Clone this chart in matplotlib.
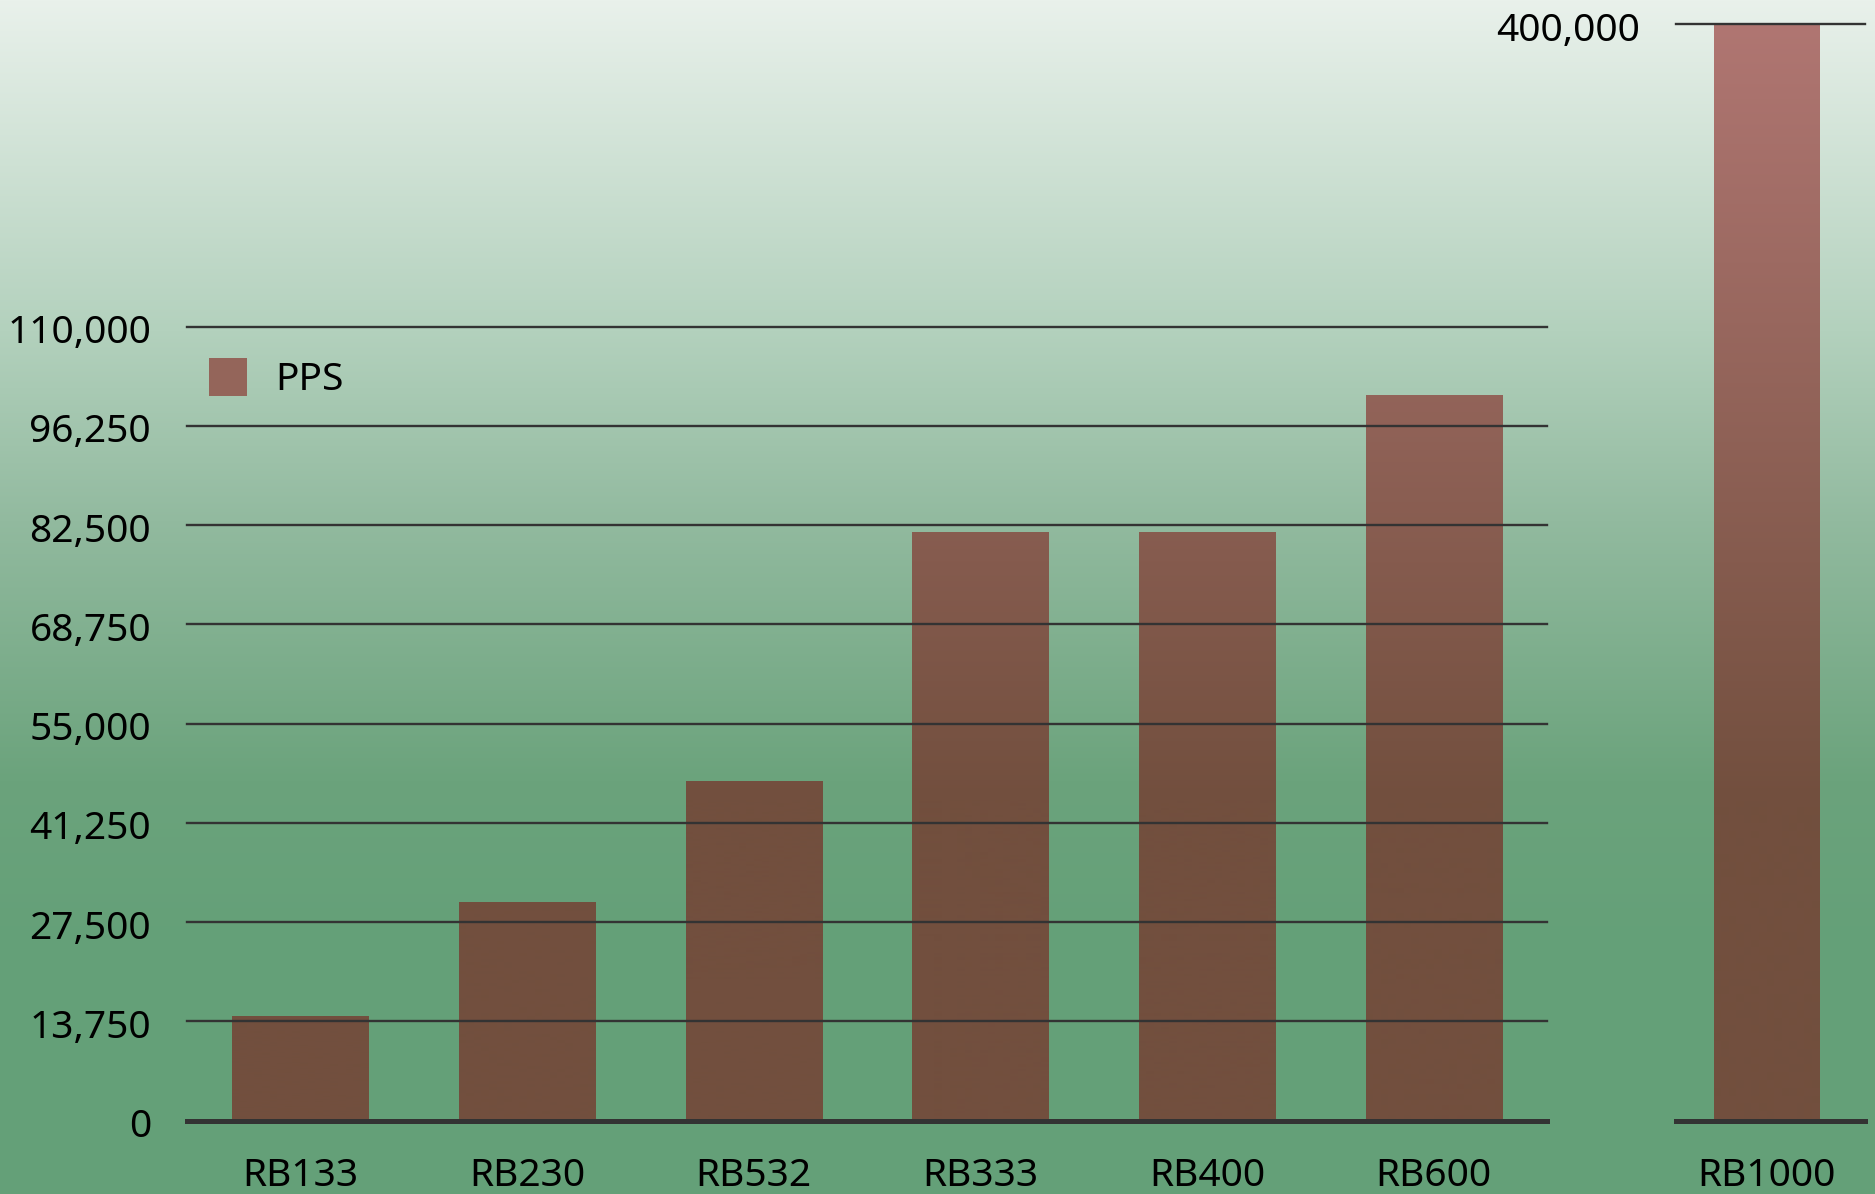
import matplotlib.pyplot as plt
import matplotlib.transforms as mtransforms
import numpy as np
from matplotlib.ticker import FuncFormatter

plt.rcParams["font.family"] = ["Noto Sans", "DejaVu Sans"]

# --- data
models = ["RB133", "RB230", "RB532", "RB333", "RB400", "RB600"]
pps = [14500, 30300, 47000, 81600, 81600, 100500]
big_model = "RB1000"
big_pps = 400000
main_ticks = np.arange(0, 110001, 13750)
big_ticks = [0, 400000]
series_name = "PPS"

W, H = 1875, 1194
fig = plt.figure(figsize=(W / 100, H / 100), dpi=100)
rows = np.arange(H)


def vgrad(stops_y, stops_rgb):
    stops_rgb = np.array(stops_rgb) / 255.0
    g = np.stack([np.interp(rows, stops_y, stops_rgb[:, c]) for c in range(3)], axis=-1)
    return g[:, None, :]


# --- background gradient (light at top, green at bottom)
bg = vgrad([0, 330, 520, 780, 950],
           [[233, 241, 235], [179, 209, 189], [146, 186, 159], [107, 163, 124], [100, 160, 120]])
ax_bg = fig.add_axes([0, 0, 1, 1], zorder=-10)
ax_bg.imshow(bg, aspect="auto", extent=[0, 1, 0, 1])
ax_bg.axis("off")

# bar fill gradient, in figure coordinates
bar_grad = vgrad([24, 800], [[176, 118, 114], [114, 79, 62]])

fmt = FuncFormatter(lambda v, p: f"{v:,.0f}")
line_col = "#333333"
fs = 28
nudge = mtransforms.ScaledTranslation(0, -2 / 100, fig.dpi_scale_trans)


def shade(ax, bars):
    for b in bars:
        im = ax.imshow(bar_grad, extent=[0, 1, 0, 1], transform=fig.transFigure,
                       aspect="auto", zorder=2.5)
        im.set_clip_path(b)


def style(ax, ticks):
    for t in ticks:
        ax.axhline(t, color=line_col, lw=3.6 if t == 0 else 1.7, zorder=3, clip_on=False)
    for s in ax.spines.values():
        s.set_visible(False)
    ax.patch.set_alpha(0)
    ax.yaxis.set_major_formatter(fmt)
    ax.tick_params(axis="y", length=0, labelsize=fs, pad=25.7)
    ax.tick_params(axis="x", length=0, labelsize=fs, pad=26)
    for lab in ax.get_yticklabels():
        lab.set_transform(lab.get_transform() + nudge)


# --- main axes
ax = fig.add_axes([0.0996, 0.0614, 0.7255, 0.665])
x = np.arange(len(models))
bars = ax.bar(x, pps, width=0.6, color="#94655a", label=series_name, zorder=2)
shade(ax, bars)
ax.set_xlim(-0.5, len(models) - 0.5)
ax.set_ylim(0, main_ticks[-1])
ax.set_yticks(main_ticks)
ax.set_xticks(x, models)
style(ax, main_ticks)
ax.legend(loc="upper left", bbox_to_anchor=(0.0164, 0.96), frameon=False, fontsize=fs,
          handlelength=0.97, handleheight=1.1, handletextpad=0.73,
          borderpad=0, borderaxespad=0)

# --- separate axes for the big one
ax2 = fig.add_axes([0.8939, 0.0614, 0.1008, 0.9183])
bars2 = ax2.bar([0], [big_pps], width=0.556, color="#94655a", zorder=2)
shade(ax2, bars2)
ax2.set_xlim(-0.479, 0.521)
ax2.set_ylim(0, big_ticks[-1])
ax2.set_yticks(big_ticks[1:])
ax2.set_xticks([0], [big_model])
style(ax2, big_ticks)

fig.savefig("out.png", dpi=100)
